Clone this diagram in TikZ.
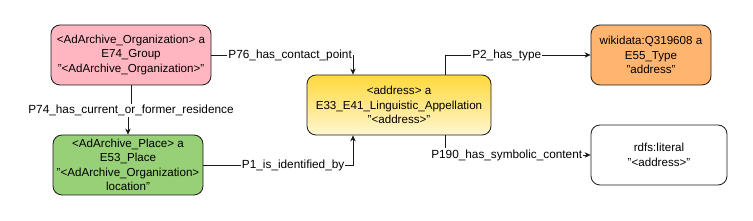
\documentclass[tikz,border=0pt]{standalone}
\usepackage{fontspec}
\setmainfont{Liberation Sans}
\usetikzlibrary{arrows.meta}
\definecolor{pinkf}{HTML}{FFB6C1}
\definecolor{greenf}{HTML}{97D077}
\definecolor{orangef}{HTML}{FFB570}
\definecolor{yelltop}{HTML}{FFD93A}
\definecolor{yellbot}{HTML}{FFF6D2}
\definecolor{edgec}{HTML}{1A1A1A}
\tikzset{
  box/.style={draw=edgec, line width=0.8pt, rounded corners=9pt, align=center,
    font=\fontsize{11.6}{14.5}\selectfont, inner sep=2pt},
  edge/.style={draw=edgec, line width=0.8pt, -{Stealth[length=6pt,width=5.5pt]}},
  lbl/.style={fill=white, inner sep=1pt, font=\fontsize{11.8}{13}\selectfont}
}
\begin{document}
\begin{tikzpicture}[x=1pt,y=-1pt]
\useasboundingbox (0,0) rectangle (753,221);
\node[box, fill=pinkf, minimum width=160pt, minimum height=60pt] (org) at (131,55)
  {<AdArchive\_Organization> a\\E74\_Group\\"<AdArchive\_Organization>"};
\node[box, fill=greenf, minimum width=150pt, minimum height=60pt] (place) at (128,165)
  {<AdArchive\_Place> a\\E53\_Place\\"<AdArchive\_Organization>\\location"};
\node[box, top color=yelltop, bottom color=yellbot, minimum width=184pt, minimum height=60pt] (addr) at (399,105)
  {<address> a\\E33\_E41\_Linguistic\_Appellation\\"<address>"};
\node[box, fill=orangef, minimum width=120pt, minimum height=60pt] (type) at (651,55)
  {wikidata:Q319608 a\\E55\_Type\\"address"};
\node[box, fill=white, minimum width=136pt, minimum height=60pt] (lit) at (659,155)
  {rdfs:literal\\"<address>"};

\draw[edge] (org.east) -| node[lbl, pos=0.278] {P76\_has\_contact\_point} ([xshift=-46pt]addr.north);
\draw[edge] (org.south) -- ++(0,25) coordinate (j74) -| (place.north);
\node[lbl] (l74) at (j74) {P74\_has\_current\_or\_former\_residence};
\draw[edge] (place.east) -| node[lbl, pos=0.3] {P1\_is\_identified\_by} ([xshift=-46pt]addr.south);
\draw[edge] ([xshift=46pt]addr.north) |- node[lbl, pos=0.712] {P2\_has\_type} (type.west);
\draw[edge] ([xshift=46pt]addr.south) |- node[lbl, pos=0.712] {P190\_has\_symbolic\_content} (lit.west);
\end{tikzpicture}
\end{document}
